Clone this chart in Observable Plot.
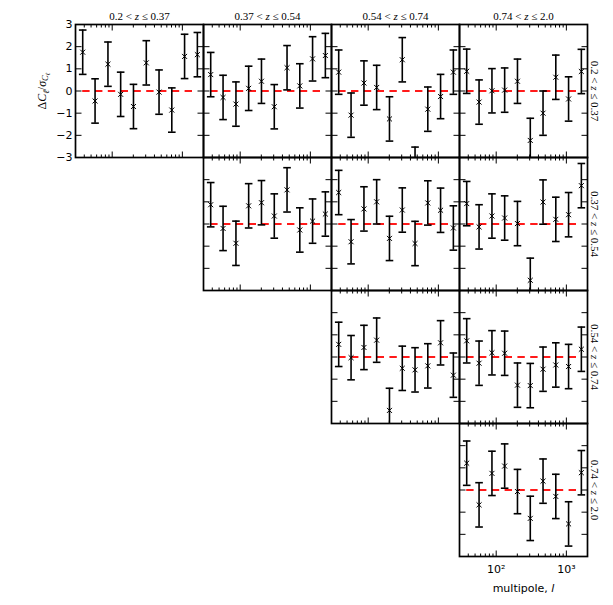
<!DOCTYPE html>
<html><head><meta charset="utf-8">
<script src="https://cdn.jsdelivr.net/npm/d3@7"></script>
<script src="https://cdn.jsdelivr.net/npm/@observablehq/plot@0.6"></script>
<style>body{margin:0;background:#fff}#chart{width:613px;height:605px}</style>
</head><body><div id="chart"></div>
<script>
// ---- data ----
const zBins = ["0.2 < z ≤ 0.37", "0.37 < z ≤ 0.54", "0.54 < z ≤ 0.74", "0.74 < z ≤ 2.0"];
const multipoles = [38, 57, 87, 132, 201, 306, 465, 707, 1075, 1635];
// panels as [row, col]
const panels = [[0,0],[0,1],[0,2],[0,3],[1,1],[1,2],[1,3],[2,2],[2,3],[3,3]];
const res00 = [1.75, -0.45, 1.21, -0.15, -0.70, 1.27, -0.05, -0.86, 1.56, 1.64];
const res01 = [0.74, -0.29, -0.59, 0.12, 0.44, -0.71, 1.05, 0.23, 1.45, 1.60];
const res02 = [0.85, -1.09, 0.36, 0.16, -1.26, 1.41, -3.53, -0.82, -0.25, 0.85];
const res03 = [0.89, -0.50, 0.01, 0.04, 0.44, -2.23, -1.00, 0.62, -0.36, 0.88];
const res11 = [0.87, -0.20, -0.87, 0.82, 0.96, 0.36, 1.54, -0.27, 0.13, 0.45];
const res12 = [1.42, -0.80, 0.68, 1.00, -0.65, 0.63, -0.88, 0.95, 0.62, -0.18];
const res13 = [0.92, -0.13, 0.36, 0.27, 0.02, -2.54, 0.99, 0.21, 0.42, 1.73];
const res22 = [0.57, -0.03, 0.43, 0.76, -2.41, -0.51, -0.58, -0.40, 0.64, -0.82];
const res23 = [0.73, -0.28, 0.19, 0.17, -1.27, -1.29, -0.55, -0.36, -0.43, 0.35];
const res33 = [1.21, -0.67, 0.75, 1.08, -0.07, -1.28, 0.40, -0.29, -1.53, 0.78];
const residuals = [res00, res01, res02, res03, res11, res12, res13, res22, res23, res33];
const sigma = 1; // residuals are in units of sigma
const yTicks = [-3, -2, -1, 0, 1, 2, 3];
const yTickLabels = ["−3", "−2", "−1", "0", "1", "2", "3"];
const xMajorTicks = [100, 1000];
const xTickLabels = ["10²", "10³"];
const xMinorTicks = [40, 50, 60, 70, 80, 90, 200, 300, 400, 500, 600, 700, 800, 900];
const xDomain = [30, 2000];
const yDomain = [-3, 3];

// ---- derived tables ----
const points = panels.flatMap(([row, col], p) =>
  multipoles.map((l, i) => ({row, col, l, v: residuals[p][i]})));
const zeroLines = panels.map(([row, col]) => ({row, col, l1: multipoles[0], l2: multipoles[multipoles.length - 1], ref: 0}));
const topTitles = zBins.map((label, col) => ({row: 0, col, label}));
const rightTitles = zBins.map((label, row) => ({row, col: 3, label}));
const yLabelRows = yTicks.map((v, i) => ({row: 0, col: 0, v, t: yTickLabels[i]}));
const xLabelRows = xMajorTicks.map((l, i) => ({row: 3, col: 3, l, t: xTickLabels[i]}));

// custom path "symbols"
const sym = f => ({draw(ctx, size) { f(ctx, Math.sqrt(size / Math.PI)); }});
const capSym = sym((c, r) => { c.moveTo(-r, 0); c.lineTo(r, 0); });
const tickRight = sym((c, r) => { c.moveTo(0, 0); c.lineTo(r, 0); });
const tickLeft = sym((c, r) => { c.moveTo(0, 0); c.lineTo(-r, 0); });
const tickDown = sym((c, r) => { c.moveTo(0, 0); c.lineTo(0, r); });
const tickUp = sym((c, r) => { c.moveTo(0, 0); c.lineTo(0, -r); });

const F = {fx: "col", fy: "row"};
const serif = "Liberation Serif, DejaVu Serif, serif";
const sans = "DejaVu Sans, sans-serif";
const T = {fill: "#000", lineAnchor: "middle"};

const chart = Plot.plot({
  width: 613, height: 605,
  marginLeft: 73, marginRight: 25, marginTop: 23, marginBottom: 49,
  style: {background: "#fff", overflow: "visible"},
  fx: {domain: [0, 1, 2, 3], padding: 0, axis: null},
  fy: {domain: [0, 1, 2, 3], padding: 0, axis: null},
  x: {type: "log", domain: xDomain, axis: null},
  y: {domain: yDomain, axis: null},
  marks: [
    Plot.ruleY(zeroLines, {...F, y: "ref", x1: "l1", x2: "l2", stroke: "#ff1a1a", strokeWidth: 2, strokeDasharray: "7.4,5.4"}),
    Plot.ruleX(points, {...F, x: "l", y1: d => d.v - sigma, y2: d => d.v + sigma, stroke: "#000", strokeWidth: 1.6, clip: true}),
    Plot.dot(points, {...F, x: "l", y: d => d.v - sigma, symbol: capSym, r: 3.8, stroke: "#000", fill: "none", strokeWidth: 1.6, clip: true}),
    Plot.dot(points, {...F, x: "l", y: d => d.v + sigma, symbol: capSym, r: 3.8, stroke: "#000", fill: "none", strokeWidth: 1.6, clip: true}),
    Plot.dot(points, {...F, x: "l", y: "v", symbol: "times", r: 2.4, stroke: "#000", strokeWidth: 1, clip: true}),
    // inward ticks
    Plot.dot(yTicks, {y: d => d, frameAnchor: "left", symbol: tickRight, r: 6, stroke: "#000", fill: "none", strokeWidth: 1}),
    Plot.dot(yTicks, {y: d => d, frameAnchor: "right", symbol: tickLeft, r: 6, stroke: "#000", fill: "none", strokeWidth: 1}),
    Plot.dot(xMajorTicks, {x: d => d, frameAnchor: "top", symbol: tickDown, r: 6, stroke: "#000", fill: "none", strokeWidth: 1}),
    Plot.dot(xMajorTicks, {x: d => d, frameAnchor: "bottom", symbol: tickUp, r: 6, stroke: "#000", fill: "none", strokeWidth: 1}),
    Plot.dot(xMinorTicks, {x: d => d, frameAnchor: "top", symbol: tickDown, r: 3, stroke: "#000", fill: "none", strokeWidth: 1}),
    Plot.dot(xMinorTicks, {x: d => d, frameAnchor: "bottom", symbol: tickUp, r: 3, stroke: "#000", fill: "none", strokeWidth: 1}),
    Plot.frame({stroke: "#000", strokeWidth: 1.7}),
    // labels
    Plot.text(topTitles, {...F, ...T, text: "label", frameAnchor: "top", textAnchor: "middle", dy: -8, fontFamily: serif, fontSize: 11}),
    Plot.text(rightTitles, {...F, ...T, text: "label", frameAnchor: "right", textAnchor: "middle", dx: 7, rotate: 90, fontFamily: serif, fontSize: 11}),
    Plot.text(yLabelRows, {...F, ...T, y: "v", text: "t", frameAnchor: "left", textAnchor: "end", dx: -3, fontFamily: sans, fontSize: 11}),
    Plot.text(xLabelRows, {...F, ...T, x: "l", text: "t", frameAnchor: "bottom", textAnchor: "middle", dy: 13, fontFamily: sans, fontSize: 11}),
    Plot.text([{row: 3, col: 3, label: "multipole, l"}], {...F, ...T, text: "label", frameAnchor: "bottom", textAnchor: "middle", dy: 32, fontFamily: sans, fontSize: 11}),
    Plot.text([{row: 0, col: 0, label: "ΔCl/σCl"}], {...F, ...T, text: "label", frameAnchor: "left", textAnchor: "middle", dx: -33, rotate: -90, fontFamily: serif, fontSize: 12})
  ]
});
document.getElementById("chart").appendChild(chart);

// typographic refinements (italic variables, subscripts)
const svg = d3.select(chart);
svg.selectAll("text").each(function() {
  const t = d3.select(this);
  const s = this.textContent;
  if (/z ≤/.test(s)) {
    const [a, b] = s.split("z");
    t.text(null);
    t.append("tspan").text(a);
    t.append("tspan").attr("font-style", "italic").text("z");
    t.append("tspan").text(b);
  } else if (s === "multipole, l") {
    t.text(null);
    t.append("tspan").text("multipole, ");
    t.append("tspan").attr("font-style", "italic").text("l");
  } else if (s === "ΔCl/σCl") {
    t.text(null);
    t.append("tspan").text("Δ");
    t.append("tspan").attr("font-style", "italic").text("C");
    t.append("tspan").attr("font-size", "8.5px").attr("dy", "0.3em").attr("font-style", "italic").text("ℓ");
    t.append("tspan").attr("dy", "-0.25em").text("/");
    t.append("tspan").attr("font-style", "italic").text("σ");
    t.append("tspan").attr("font-size", "8.5px").attr("dy", "0.3em").attr("font-style", "italic").text("C");
    t.append("tspan").attr("font-size", "6.5px").attr("dy", "0.25em").attr("font-style", "italic").text("ℓ");
  }
});
</script>
</body></html>
